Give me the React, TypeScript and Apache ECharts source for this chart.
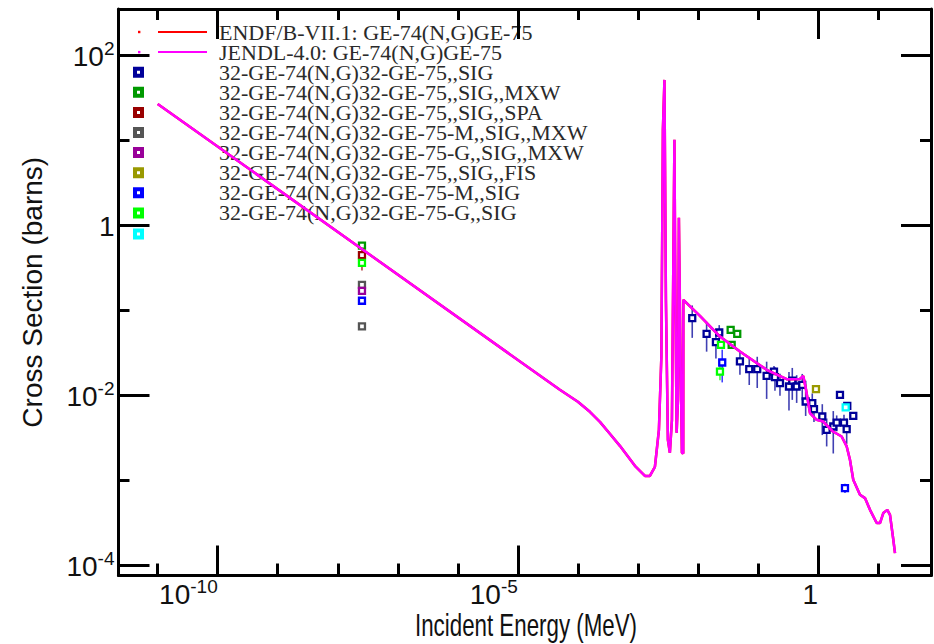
import React, { useEffect, useRef } from "react";
import * as echarts from "echarts";

// ---------------- evaluated curves (E in MeV, cross section in barns) ----------------
const jendlE = [
  1e-11, 5.01e-5, 1e-4, 1.585e-4, 2.33e-4, 3.41e-4, 5.01e-4, 8.91e-4, 1.31e-3, 1.585e-3,
  1.92e-3, 2.24e-3, 2.46e-3, 2.61e-3, 2.77e-3, 2.93e-3, 3.16e-3, 3.41e-3, 3.69e-3, 3.91e-3,
  4.06e-3, 4.22e-3, 4.42e-3, 4.65e-3, 4.82e-3, 5.11e-3, 5.41e-3, 5.69e-3, 5.72e-3, 0.0108,
  0.0233, 0.0501, 0.1396, 0.301, 0.501, 0.569, 0.624, 0.736, 0.951, 1.225,
  1.778, 2.48, 3.01, 3.41, 3.87, 5.01, 6.07, 7.36, 9.51, 10.8,
  12.25, 14.3, 15.85, 18.0, 19.2,
];
const jendlSig = [
  26.5, 0.01146, 0.00828, 0.00631, 0.00481, 0.00348, 0.00251, 0.00146, 0.00111, 0.00111,
  0.00142, 0.00387, 0.028, 13.1, 50.8, 0.131, 0.00296, 0.00208, 0.00508, 0.508,
  10, 0.131, 0.00357, 0.00873, 1.21, 0.0338, 0.00208, 0.00204, 0.131, 0.0849,
  0.0485, 0.0323, 0.0197, 0.0153, 0.0154, 0.0167, 0.0121, 0.0061, 0.00508, 0.00485,
  0.0037, 0.00323, 0.00247, 0.00172, 0.001, 0.000667, 0.000609, 0.000443, 0.00031, 0.00031,
  0.000406, 0.000443, 0.000387, 0.000197, 0.000137,
];
const endfE = [
  1e-11, 5.01e-5, 1e-4, 1.585e-4, 2.33e-4, 3.41e-4, 5.01e-4, 8.91e-4, 1.31e-3, 1.585e-3,
  1.92e-3, 2.24e-3, 2.46e-3, 2.61e-3, 2.77e-3, 2.93e-3, 3.16e-3, 3.41e-3, 3.69e-3, 3.91e-3,
  4.06e-3, 4.22e-3, 4.42e-3, 4.65e-3, 4.82e-3, 5.11e-3, 5.41e-3, 5.69e-3, 5.72e-3, 0.0108,
  0.0233, 0.0501, 0.1396, 0.301, 0.501, 0.569, 0.624, 0.736, 0.951, 1.225,
  1.778, 2.48, 3.01, 3.41, 3.87, 5.01, 6.07, 7.36, 9.51, 10.8,
  12.25, 14.3, 15.85, 18.0, 19.2,
];
const endfSig = [
  26.5, 0.01146, 0.00828, 0.00631, 0.00481, 0.00348, 0.00251, 0.00146, 0.00111, 0.00111,
  0.00142, 0.00387, 0.028, 13.1, 50.8, 0.131, 0.00296, 0.00208, 0.00508, 0.508,
  10, 0.131, 0.00357, 0.00873, 1.21, 0.0338, 0.00208, 0.00204, 0.131, 0.0849,
  0.0485, 0.0323, 0.0197, 0.0153, 0.0154, 0.0167, 0.0121, 0.0061, 0.00508, 0.00485,
  0.0037, 0.00323, 0.00247, 0.00172, 0.001, 0.000667, 0.000609, 0.000443, 0.00031, 0.00031,
  0.000406, 0.000443, 0.000387, 0.000197, 0.000137,
];

// ---------------- experimental data (EXFOR) ----------------
const sigE = [0.00804, 0.01396, 0.02265, 0.01995, 0.0501, 0.0716, 0.0973, 0.1396, 0.185, 0.192, 0.2328, 0.3288, 0.3733, 0.4416, 0.547, 0.6237, 0.8035, 0.858, 1.18, 1.396, 1.799, 2.05, 2.326, 2.713, 3.008, 3.077, 3.873];
const sigVal = [0.0798, 0.0522, 0.0541, 0.0417, 0.0247, 0.02004, 0.02004, 0.01675, 0.0188, 0.01614, 0.01374, 0.01253, 0.01472, 0.01253, 0.01312, 0.00834, 0.00798, 0.00679, 0.00556, 0.00387, 0.00424, 0.00472, 0.01, 0.00472, 0.00395, 0.00743, 0.00566];
const sigErr = [0.033, 0.02, 0.012, 0.015, 0.0075, 0.007, 0.008, 0.0078, 0.003, 0.005, 0.004, 0.006, 0.006, 0.0045, 0.0045, 0.0027, 0.0024, 0.002, 0.0022, 0.0014, 0.0022, 0.001, 0, 0.0011, 0.0013, 0.0005, 0];

const mxwE = [2.53e-8, 0.0351, 0.0452, 0.0365];
const mxwVal = [0.57, 0.0582, 0.0522, 0.0388];
const mxwErr = [0.03, 0, 0, 0];

const spaE = [2.53e-8];
const spaVal = [0.44];
const spaErr = [0.15];

const mMxwE = [2.53e-8, 2.53e-8];
const mMxwVal = [0.197, 0.064];
const mMxwErr = [0, 0];

const gMxwE = [2.53e-8];
const gMxwVal = [0.167];
const gMxwErr = [0];

const fisE = [0.926];
const fisVal = [0.01167];
const fisErr = [0];

const mSigE = [2.53e-8, 0.0254, 2.818];
const mSigVal = [0.128, 0.024, 0.000798];
const mSigErr = [0, 0.01, 0.0001];

const gSigE = [2.53e-8, 0.0242, 0.0233];
const gSigVal = [0.357, 0.0388, 0.0188];
const gSigErr = [0, 0, 0.004];

const extraE = [2.896];
const extraVal = [0.0071];
const extraErr = [0];

// ---------------- labels ----------------
const curveNames = ["ENDF/B-VII.1: GE-74(N,G)GE-75", "JENDL-4.0: GE-74(N,G)GE-75"];
const curveColors = ["#ff0000", "#ff00ff"];
const expNames = [
  "32-GE-74(N,G)32-GE-75,,SIG",
  "32-GE-74(N,G)32-GE-75,,SIG,,MXW",
  "32-GE-74(N,G)32-GE-75,,SIG,,SPA",
  "32-GE-74(N,G)32-GE-75-M,,SIG,,MXW",
  "32-GE-74(N,G)32-GE-75-G,,SIG,,MXW",
  "32-GE-74(N,G)32-GE-75,,SIG,,FIS",
  "32-GE-74(N,G)32-GE-75-M,,SIG",
  "32-GE-74(N,G)32-GE-75-G,,SIG",
  "",
];
const expColors = ["#000099", "#009900", "#990000", "#555555", "#990099", "#999900", "#0000ff", "#00ff00", "#00ffff"];
const xTitle = "Incident Energy (MeV)";
const yTitle = "Cross Section (barns)";
const xMajorTicks = [1e-10, 1e-5, 1];
const xDecadeTicks = [1e-11, 1e-10, 1e-9, 1e-8, 1e-7, 1e-6, 1e-5, 1e-4, 1e-3, 1e-2, 1e-1, 1, 10];
const yMajorTicks = [1e-4, 1e-2, 1, 100];
const yDecadeTicks = [1e-4, 1e-3, 1e-2, 1e-1, 1, 10, 100];

const expSets = [
  { E: sigE, v: sigVal, e: sigErr },
  { E: mxwE, v: mxwVal, e: mxwErr },
  { E: spaE, v: spaVal, e: spaErr },
  { E: mMxwE, v: mMxwVal, e: mMxwErr },
  { E: gMxwE, v: gMxwVal, e: gMxwErr },
  { E: fisE, v: fisVal, e: fisErr },
  { E: mSigE, v: mSigVal, e: mSigErr },
  { E: gSigE, v: gSigVal, e: gSigErr },
  { E: extraE, v: extraVal, e: extraErr },
];

const SANS = "'Liberation Sans', Arial, sans-serif";
const SERIF = "'Liberation Serif', 'Times New Roman', serif";

const X_MIN = Math.pow(10, -11.653);
const X_MAX = Math.pow(10, 1.883);
const Y_MIN = Math.pow(10, -4.126);
const Y_MAX = Math.pow(10, 2.54);

function powLabel(v: number) {
  const e = Math.round(Math.log10(v));
  return e === 0 ? "{b|1}" : `{b|10}{s|${e}}`;
}

const labelRich = {
  b: { fontSize: 28, fontFamily: SANS, color: "#111", lineHeight: 32, verticalAlign: "bottom" },
  s: { fontSize: 19, fontFamily: SANS, color: "#111", lineHeight: 22, verticalAlign: "top" },
};

function makeAxis(kind: "x" | "y", position: string, ticks: number[], len: number, withLine: boolean, labels: boolean) {
  const ax: any = {
    type: "log",
    logBase: 10,
    position,
    min: kind === "x" ? X_MIN : Y_MIN,
    max: kind === "x" ? X_MAX : Y_MAX,
    splitLine: { show: false },
    axisLine: { show: withLine, lineStyle: { color: "#000", width: 3 } },
    axisTick: { show: true, inside: true, length: len, customValues: ticks, lineStyle: { color: "#000", width: 3 } },
    axisLabel: { show: false },
  };
  if (labels) {
    ax.axisLabel = {
      show: true,
      customValues: ticks,
      formatter: powLabel,
      rich: labelRich,
      margin: kind === "x" ? 1 : 4,
      align: "right",
      verticalAlign: kind === "x" ? "top" : "middle",
    };
  }
  return ax;
}

export default function App() {
  const ref = useRef<HTMLDivElement>(null);

  useEffect(() => {
    if (!ref.current) return;
    const chart = echarts.init(ref.current, undefined, { renderer: "svg" });

    const xAxes = [
      makeAxis("x", "bottom", xMajorTicks, 30, true, true),
      makeAxis("x", "bottom", xDecadeTicks, 12, false, false),
      makeAxis("x", "top", xMajorTicks, 30, true, false),
      makeAxis("x", "top", xDecadeTicks, 11, false, false),
    ];
    const yAxes = [
      {
        ...makeAxis("y", "left", yMajorTicks, 31, true, true),
        name: yTitle,
        nameLocation: "middle",
        nameGap: 72,
        nameTextStyle: { fontSize: 28, fontFamily: SANS, color: "#111" },
      },
      makeAxis("y", "left", yDecadeTicks, 11, false, false),
      makeAxis("y", "right", yMajorTicks, 30, true, false),
      makeAxis("y", "right", yDecadeTicks, 11, false, false),
    ];

    const series: any[] = [];
    expSets.forEach((set, k) => {
      const color = expColors[k];
      const bars = set.E.map((e, i) => [e, set.v[i] - set.e[i], set.v[i] + set.e[i]]).filter((_, i) => set.e[i] > 0);
      if (bars.length) {
        series.push({
          type: "custom",
          name: expNames[k] + "_err" + k,
          xAxisIndex: 0,
          yAxisIndex: 0,
          silent: true,
          z: 2,
          encode: { x: 0, y: [1, 2] },
          data: bars,
          renderItem: (_p: any, api: any) => {
            const x = api.value(0);
            const p1 = api.coord([x, Math.max(api.value(1), Y_MIN)]);
            const p2 = api.coord([x, api.value(2)]);
            return {
              type: "line",
              shape: { x1: p1[0], y1: p1[1], x2: p2[0], y2: p2[1] },
              style: { stroke: color, lineWidth: 1.6, opacity: 0.75 },
            };
          },
        });
      }
      series.push({
        type: "scatter",
        name: expNames[k] || "extra",
        xAxisIndex: 0,
        yAxisIndex: 0,
        z: 3,
        symbol: "rect",
        symbolSize: 6,
        itemStyle: { color: "#ffffff", borderColor: color, borderWidth: 2.3, opacity: 1 },
        data: set.E.map((e, i) => [e, set.v[i]]),
      });
    });
    series.push({
      type: "line",
      name: curveNames[0],
      xAxisIndex: 0,
      yAxisIndex: 0,
      z: 4,
      symbol: "none",
      lineStyle: { color: curveColors[0], width: 2.5 },
      data: endfE.map((e, i) => [e, endfSig[i]]),
    });
    series.push({
      type: "line",
      name: curveNames[1],
      xAxisIndex: 0,
      yAxisIndex: 0,
      z: 5,
      symbol: "none",
      lineStyle: { color: curveColors[1], width: 2.5 },
      data: jendlE.map((e, i) => [e, jendlSig[i]]),
    });

    // legend drawn as graphic elements
    const rowY0 = 32;
    const rowStep = 20.1;
    const legendFont = `22px ${SERIF}`;
    const graphics: any[] = [];
    curveNames.forEach((n, i) => {
      const y = rowY0 + i * rowStep;
      graphics.push({ type: "rect", shape: { x: 138, y: y - 1.2, width: 2.4, height: 2.4 }, style: { fill: curveColors[i] } });
      graphics.push({ type: "line", shape: { x1: 158, y1: y, x2: 207, y2: y }, style: { stroke: curveColors[i], lineWidth: 2 } });
      graphics.push({
        type: "text",
        x: 219,
        y,
        style: { text: n, font: legendFont, fill: "#2a2a2a", verticalAlign: "middle", align: "left" },
      });
    });
    expNames.forEach((n, k) => {
      const y = rowY0 + (k + 2) * rowStep + (k === 8 ? 1 : 0);
      graphics.push({
        type: "rect",
        shape: { x: 138.5 - 3.5, y: y - 3.5, width: 7, height: 7 },
        style: { fill: "#ffffff", stroke: expColors[k], lineWidth: 4 },
      });
      if (n) {
        graphics.push({
          type: "text",
          x: 219,
          y,
          style: { text: n, font: legendFont, fill: "#2a2a2a", verticalAlign: "middle", align: "left" },
        });
      }
    });
    // x-axis title (condensed, as in the reference)
    graphics.push({
      type: "text",
      x: 526,
      y: 626,
      scaleX: 0.72,
      style: { text: xTitle, font: `31px ${SANS}`, fill: "#111", align: "center", verticalAlign: "middle" },
    });

    chart.setOption({
      animation: false,
      backgroundColor: "#ffffff",
      grid: { left: 118.5, right: 3, top: 9, bottom: 68.5, containLabel: false, outerBoundsMode: "none" },
      xAxis: xAxes,
      yAxis: yAxes,
      series,
      graphic: graphics,
    } as any);

    return () => chart.dispose();
  }, []);

  return <div ref={ref} style={{ position: "absolute", left: 0, top: 0, width: 934, height: 644 }} />;
}
